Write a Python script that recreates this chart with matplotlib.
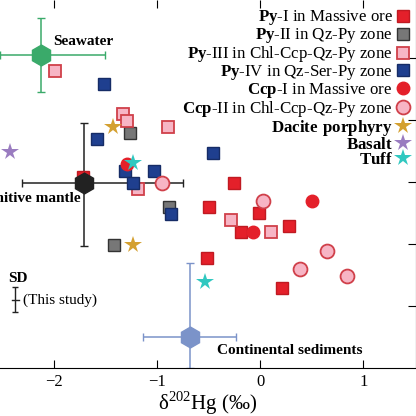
import matplotlib
matplotlib.use("Agg")
import matplotlib.pyplot as plt

plt.rcParams['font.family'] = ['Liberation Serif', 'DejaVu Serif']
plt.rcParams['mathtext.fontset'] = 'custom'
plt.rcParams['mathtext.rm'] = 'Liberation Serif'
plt.rcParams['mathtext.bf'] = 'Liberation Serif:bold'

py1_x = [-1.72, -0.25, -0.50, -0.01, -0.19, 0.28, -0.51, 0.21]
py1_y = [3.08, 2.98, 2.60, 2.50, 2.19, 2.29, 1.77, 1.29]
py2_x = [-1.26, -0.88, -1.42]
py2_y = [3.79, 2.60, 1.98]
py3_x = [-1.99, -1.33, -1.29, -0.89, -1.18, -0.28, 0.11]
py3_y = [4.79, 4.10, 3.98, 3.89, 2.89, 2.39, 2.19]
py4_x = [-1.51, -1.58, -0.46, -1.31, -1.03, -1.23, -0.86]
py4_y = [4.58, 3.69, 3.47, 3.18, 3.18, 2.98, 2.48]
ccp1_x = [-1.29, 0.50, -0.07]
ccp1_y = [3.29, 2.69, 2.19]
ccp2_x = [-0.95, 0.03, 0.65, 0.39, 0.84]
ccp2_y = [2.98, 2.69, 1.89, 1.60, 1.48]
dac_x = [-1.43, -1.23]; dac_y = [3.89, 1.98]
bas_x = [-2.42]; bas_y = [3.48]
tuff_x = [-1.23, -0.53]; tuff_y = [3.31, 1.39]

# reservoirs: x, y, xerr_lo, xerr_hi, yerr_lo, yerr_hi
sea = (-2.12, 5.05, 0.40, 0.62, 0.60, 0.60)
mantle = (-1.71, 2.98, 0.60, 0.96, 1.01, 0.97)
sed = (-0.68, 0.50, 0.45, 0.45, 0.5, 1.19)

fig = plt.figure(figsize=(4.16, 4.16), dpi=100)
ax = fig.add_axes([0, 48/416, 1.0, 368/416])
ax.set_xlim(-2.52, 1.51)
ax.set_ylim(0, 5.94)

for (x, y, xl, xh, yl, yh), c in [(sea, '#3aaa6a'), (mantle, '#222222'), (sed, '#7b93c9')]:
    ax.errorbar([x], [y], xerr=[[xl], [xh]], yerr=[[yl], [yh]], fmt='h', color=c,
                ms=15, elinewidth=1.1, capsize=3, zorder=2)
ax.text(-2.0, 5.27, 'Seawater', fontweight='bold', fontsize=11, va='center')
ax.text(-1.74, 2.74, 'Primitive mantle', fontweight='bold', fontsize=11, va='center', ha='right')
ax.text(-0.42, 0.29, 'Continental sediments', fontweight='bold', fontsize=11, va='center')
ax.text(-2.44, 1.45, 'SD', fontweight='bold', fontsize=11, va='center')
ax.errorbar([-2.37], [1.1], yerr=[[0.2], [0.2]], fmt='none', color='#222222', capsize=2, elinewidth=1)
ax.plot([-2.40, -2.34], [1.1, 1.1], color='#222222', lw=1)
ax.text(-2.30, 1.1, '(This study)', fontsize=11, va='center')

sq = dict(marker='s', ms=8, ls='none', markeredgewidth=1)
ax.plot(py1_x, py1_y, color='#e4202a', mec='#c01a22', label=r'$\mathbf{Py}$-I in Massive ore', **sq)
ax.plot(py2_x, py2_y, color='#777777', mec='#333333', label=r'$\mathbf{Py}$-II in Qz-Py zone', **sq)
ax.plot(py3_x, py3_y, color='#f7b5c5', mec='#d0404a', label=r'$\mathbf{Py}$-III in Chl-Ccp-Qz-Py zone', markeredgewidth=1.3, marker='s', ms=9, ls='none')
ax.plot(py4_x, py4_y, color='#1f3f8f', mec='#162c66', label=r'$\mathbf{Py}$-IV in Qz-Ser-Py zone', **sq)
ax.plot(ccp1_x, ccp1_y, color='#e4202a', mec='#e4202a', marker='o', ms=9, ls='none', label=r'$\mathbf{Ccp}$-I in Massive ore')
ax.plot(ccp2_x, ccp2_y, color='#f7b5c5', mec='#d0404a', marker='o', ms=10, mew=1.3, ls='none', label=r'$\mathbf{Ccp}$-II in Chl-Ccp-Qz-Py zone')
ax.plot(dac_x, dac_y, color='#d4a030', marker='*', ms=13, ls='none', mew=0, label=r'$\mathbf{Dacite\ porphyry}$')
ax.plot(bas_x, bas_y, color='#9a7cc0', marker='*', ms=13, ls='none', mew=0, label=r'$\mathbf{Basalt}$')
ax.plot(tuff_x, tuff_y, color='#30c8c0', marker='*', ms=13, ls='none', mew=0, label=r'$\mathbf{Tuff}$')

ax.legend(loc='upper right', markerfirst=False, frameon=False, fontsize=12.2,
          handlelength=0.8, handletextpad=0.2, labelspacing=-0.06, borderaxespad=0.1,
          alignment='right', bbox_to_anchor=(1.005, 1.0))

ax.set_xticks([-2, -1, 0, 1])
ax.set_xticklabels(['\u22122', '\u22121', '0', '1'], fontsize=12)
ax.set_yticks([1, 2, 3, 4, 5])
ax.yaxis.tick_right()
ax.tick_params(axis='y', labelright=False, direction='in', length=6)
ax.tick_params(axis='x', direction='in', length=6, top=True, pad=4)
ax.spines['left'].set_visible(False)
ax.spines['top'].set_visible(False)
ax.set_xlabel('\u03b4$^{202}$Hg (‰)', fontsize=15, labelpad=0)
fig.savefig('out.png', dpi=100)
